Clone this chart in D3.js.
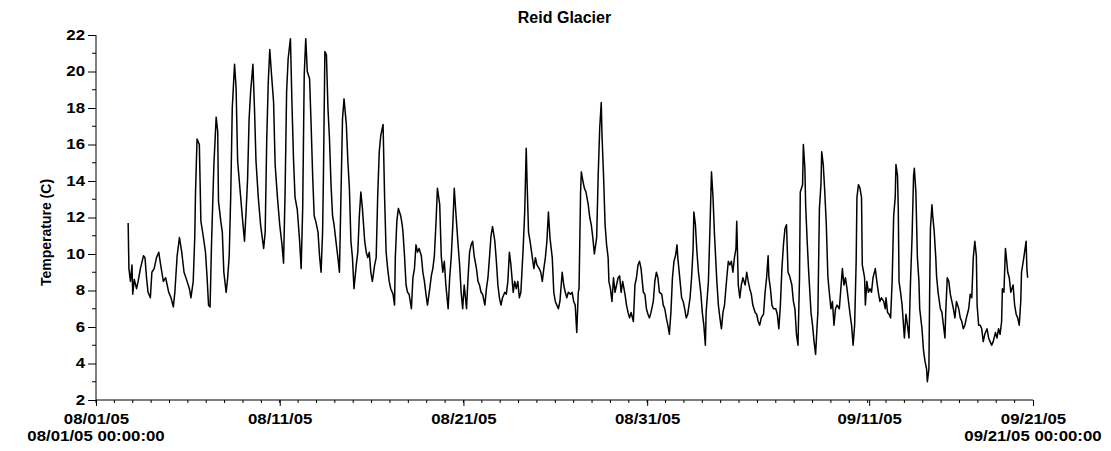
<!DOCTYPE html>
<html lang="en">
<head>
    <meta charset="utf-8">
    <title>Reid Glacier</title>
    <script src="https://d3js.org/d3.v7.min.js"></script>
    <style>
        body { margin: 0; background: #fff; }
        text { font-family: "Liberation Sans", Arial, sans-serif; font-weight: bold; fill: #000; }
    </style>
</head>
<body>
    <div id="chart-container"></div>

    <script>
        // hours since 08/01/05 00:00 and temperature (C)
        const hours = [
            42, 43, 45, 47, 48, 50, 53, 55, 58, 62, 64, 66, 68, 71, 73, 76, 79, 82, 83, 86, 88, 91, 95, 98, 101, 103, 106, 109, 112, 115, 119, 122, 124, 127, 129, 130, 132, 135, 137, 140, 143, 145, 147, 149, 151, 154, 157, 159,
            160, 163, 165, 167, 170, 172, 174, 176, 178, 181, 183, 185, 188, 191, 194, 196, 198, 200, 202, 205, 207, 209, 212, 215, 219, 221, 223, 225, 227, 229, 232, 234, 237, 240, 243, 245, 247, 249, 251, 254, 256, 258, 260, 263, 266, 268, 270, 272, 274, 276,
            279, 281, 283, 285, 287, 290, 292, 294, 296, 297, 299, 301, 303, 305, 307, 309, 311, 314, 316, 318, 320, 322, 324, 327, 329, 331, 333, 335, 337, 340, 342, 344, 346, 348, 351, 353, 355, 357, 359, 361, 364, 366, 368, 370, 372, 375, 377, 379, 381, 383, 385, 388, 390, 391, 393, 395, 398, 400, 401,
            403, 405, 407, 409, 412, 414, 416, 418, 420, 422, 425, 427, 429, 431, 433, 436, 438, 440, 442, 444, 446, 449, 451, 453, 455, 457, 460, 462, 464, 466, 468, 470, 473, 475, 477, 479, 481, 484, 486, 488, 490, 492, 494, 497, 499, 501, 503, 505, 508, 510, 512, 514, 516, 518, 521, 523, 525, 527,
            529, 531, 534, 536, 538, 540, 542, 545, 547, 549, 551, 553, 555, 558, 560, 562, 563, 565, 567, 569, 572, 574, 576, 579, 581, 583, 585, 587, 589, 591, 593, 596, 598, 600, 602, 604, 606, 609, 611, 613, 615, 617, 620, 622, 624, 626, 628, 630, 631, 633, 634, 636, 638, 640, 643, 645, 647, 649,
            651, 654, 656, 658, 660, 661, 663, 665, 667, 669, 670, 672, 674, 676, 678, 680, 682, 684, 686, 688, 691, 693, 695, 697, 699, 702, 704, 706, 708, 710, 712, 715, 717, 719, 721, 723, 725, 728, 730, 732, 734, 736, 739, 741, 743, 745, 747, 749, 751, 753, 755, 757, 759, 760, 763, 765, 767, 769, 771, 773,
            776, 778, 780, 781, 783, 785, 787, 790, 792, 794, 796, 797, 800, 802, 804, 806, 808, 811, 813, 815, 817, 819, 821, 824, 826, 828, 830, 832, 834, 836, 837, 839, 841, 843, 845, 848, 850, 852, 854, 856, 858, 861, 863, 865, 867, 869, 872, 874, 876, 878, 879, 881, 883, 885, 888, 890, 892, 894, 896, 898,
            900, 902, 904, 906, 909, 911, 913, 915, 917, 919, 920, 923, 924, 926, 927, 929, 931, 934, 936, 938, 940, 942, 943, 945, 947, 948, 950, 952, 954, 956, 957, 960, 962, 964, 966, 968, 971, 973, 975, 977, 979, 981, 983, 985, 987, 989, 991, 993, 994, 996, 998, 1000, 1001, 1004, 1005, 1007, 1009, 1011, 1013, 1015, 1018, 1020, 1022,
            1024, 1026, 1029, 1031, 1032, 1034, 1036, 1038, 1040, 1042, 1044, 1045, 1047, 1048, 1049, 1051, 1053, 1056, 1058, 1060, 1062, 1064, 1066, 1068, 1069, 1071, 1073, 1075, 1076, 1079, 1081, 1083, 1085, 1086, 1088, 1089, 1090, 1092, 1093, 1095, 1097, 1098, 1100, 1103, 1105, 1107, 1109, 1110, 1112, 1114, 1116, 1118, 1120, 1122, 1124, 1127, 1129, 1131, 1133, 1135, 1137, 1140, 1142, 1144, 1146, 1148, 1150, 1151, 1153,
            1155, 1157, 1159, 1161, 1164, 1166, 1168, 1170, 1172, 1175, 1177, 1179, 1181, 1183, 1184, 1186, 1188, 1189, 1191, 1193, 1195, 1198, 1200, 1202, 1204, 1206, 1208, 1209, 1212, 1213, 1215, 1216, 1217
        ];
        const temps = [
            11.7, 9.2, 8.5, 9.4, 7.8, 8.6, 8.1, 8.5, 9.2, 9.9, 9.8, 8.7, 7.9, 7.6, 9.0, 9.2, 9.8, 10.1, 9.8, 9.0, 8.5, 8.7, 7.9, 7.6, 7.1, 7.9, 9.9, 10.9, 10.1, 9.0, 8.5, 8.1, 7.6, 8.5, 10.9, 13.4, 16.3, 16.0, 11.8, 11.0, 10.1, 8.8, 7.2, 7.1, 10.7, 14.9, 17.5, 16.7,
            12.9, 11.8, 11.2, 9.0, 7.9, 8.7, 9.9, 13.2, 18.0, 20.4, 19.1, 15.1, 13.6, 12.1, 10.7, 12.3, 14.1, 17.4, 18.9, 20.4, 18.0, 15.1, 13.1, 11.6, 10.3, 11.2, 16.2, 19.4, 21.2, 20.0, 18.3, 14.9, 13.1, 11.6, 10.5, 9.5, 13.4, 18.9, 20.7, 21.8, 18.2, 15.2, 13.1, 12.4, 10.7, 9.2, 12.5, 19.8, 21.8, 20.0,
            19.6, 17.1, 14.3, 12.1, 11.8, 11.2, 9.9, 9.0, 11.2, 14.0, 21.1, 20.9, 18.0, 16.3, 13.8, 12.1, 11.6, 10.5, 9.8, 9.0, 13.2, 17.4, 18.5, 17.1, 15.1, 13.6, 10.7, 9.8, 8.1, 9.4, 10.1, 12.1, 13.4, 12.5, 10.7, 10.1, 9.8, 10.1, 9.0, 8.5, 9.4, 9.8, 13.2, 15.6, 16.5, 17.1, 13.1, 10.1, 9.2, 8.5, 8.1, 7.8, 7.2, 9.8, 11.8, 12.5, 12.1, 11.6, 11.2,
            9.9, 8.3, 7.9, 7.8, 7.0, 8.7, 9.2, 10.5, 10.1, 10.3, 9.9, 9.0, 8.5, 7.8, 7.2, 8.1, 8.8, 9.2, 9.9, 11.6, 13.6, 12.7, 9.9, 9.0, 9.6, 8.3, 7.0, 8.7, 9.8, 11.5, 13.6, 12.3, 10.5, 9.4, 7.9, 7.0, 8.3, 7.0, 8.7, 10.1, 10.5, 10.7, 9.9, 9.2, 8.5, 8.3, 7.9, 7.8, 7.2, 8.1, 8.7, 9.8, 11.0, 11.5, 10.7, 9.6, 8.3, 7.6,
            7.2, 7.6, 7.9, 7.8, 8.5, 10.1, 9.4, 7.9, 8.5, 8.1, 8.5, 7.6, 7.9, 10.3, 12.3, 15.8, 14.1, 11.2, 10.7, 10.1, 9.2, 9.8, 9.4, 9.2, 9.0, 8.5, 9.2, 9.8, 10.7, 12.3, 10.9, 9.8, 7.9, 7.4, 7.2, 7.0, 7.4, 9.0, 8.3, 7.9, 7.6, 7.9, 7.8, 7.9, 7.4, 7.2, 5.7, 7.9, 8.1, 13.4, 14.5, 14.0, 13.6, 13.4, 12.7, 12.0, 11.6, 10.9,
            10.0, 10.9, 14.3, 16.9, 18.3, 16.5, 14.3, 11.6, 10.5, 9.8, 8.5, 8.1, 7.4, 8.7, 7.9, 8.3, 8.7, 8.8, 7.9, 8.5, 7.8, 7.2, 6.8, 6.5, 6.8, 6.3, 8.3, 8.7, 9.4, 9.6, 9.2, 7.9, 7.8, 7.0, 6.7, 6.5, 6.8, 7.4, 8.5, 9.0, 8.7, 7.9, 7.8, 7.2, 7.0, 6.5, 6.1, 5.6, 6.8, 8.7, 9.6, 9.9, 10.5, 9.8, 8.5, 7.6, 7.4, 7.0, 6.5, 6.7,
            7.6, 8.7, 10.3, 12.3, 11.6, 10.1, 9.0, 7.9, 6.8, 6.1, 5.0, 6.8, 8.5, 11.4, 14.5, 13.1, 11.0, 8.5, 7.2, 6.5, 5.9, 6.8, 7.2, 8.7, 9.6, 9.4, 9.6, 9.0, 9.8, 10.3, 11.8, 8.3, 7.6, 8.3, 8.7, 8.3, 9.0, 8.5, 8.1, 7.8, 7.2, 6.8, 6.7, 6.3, 6.1, 6.5, 6.7, 7.9, 8.7, 9.9, 8.7, 8.1, 7.2, 7.0, 7.0, 6.7, 5.9, 7.2, 9.2, 10.5,
            11.4, 11.6, 9.0, 8.8, 8.3, 7.4, 7.0, 5.6, 5.0, 8.7, 13.4, 13.8, 16.0, 14.7, 12.7, 10.7, 9.0, 6.8, 6.1, 5.2, 4.5, 6.1, 6.8, 12.5, 13.8, 15.6, 14.9, 13.4, 11.6, 8.8, 8.3, 7.0, 7.4, 6.1, 7.0, 7.2, 7.0, 8.1, 9.2, 8.3, 8.7, 8.1, 7.4, 6.7, 6.1, 5.0, 6.1, 9.6, 13.1, 13.8, 13.6, 13.1, 9.4, 8.7, 7.2, 8.5, 7.9, 8.1, 7.9, 8.7, 9.2, 8.5, 7.9,
            7.4, 7.6, 7.4, 7.0, 7.6, 6.8, 6.7, 6.5, 8.5, 12.1, 13.1, 14.9, 14.3, 12.5, 8.5, 7.9, 7.2, 5.4, 6.7, 6.1, 5.4, 8.5, 10.9, 14.3, 14.7, 13.4, 9.8, 8.5, 7.0, 5.9, 4.7, 4.1, 3.7, 3.0, 3.7, 7.9, 11.4, 12.7, 12.1, 11.2, 9.8, 8.8, 7.9, 7.0, 6.8, 6.1, 5.4, 6.8, 8.7, 8.5, 7.8, 7.4, 7.0, 6.5, 7.4, 7.0, 6.5, 6.3, 5.9, 6.1, 6.5, 7.0, 7.8, 7.6, 9.8, 10.7, 9.9, 7.2, 6.1,
            6.1, 5.9, 5.2, 5.6, 5.9, 5.4, 5.2, 5.0, 5.2, 5.7, 5.4, 5.9, 5.6, 6.3, 8.1, 7.9, 10.3, 9.9, 9.0, 8.7, 7.9, 8.3, 7.2, 6.7, 6.5, 6.1, 7.4, 9.0, 9.8, 10.1, 10.7, 9.2, 8.7
        ];

        const yTicks = d3.range(2, 23, 2);
        // where the labelled ticks sit on the original axis, and what they say
        const xLabelPos = ['2005-08-01 00', '2005-08-11 00', '2005-08-21 00', '2005-08-31 00', '2005-09-12 02', '2005-09-21 00'];
        const xLabelText = ['08/01/05', '08/11/05', '08/21/05', '08/31/05', '09/11/05', '09/21/05'];
        const startLabel = '08/01/05 00:00:00';
        const endLabel = '09/21/05 00:00:00';

        const width = 1111;
        const height = 451;
        const paddingLeft = 96;
        const paddingRight = 78;
        const paddingTop = 35;
        const paddingBottom = 51;
        const graphWidth = width - paddingLeft - paddingRight;
        const graphHeight = height - paddingTop - paddingBottom;

        const start = new Date(2005, 7, 1);
        const end = new Date(2005, 8, 21);
        const parse = d3.timeParse('%Y-%m-%d %H');
        const data = hours.map((h, i) => ({ t: d3.timeHour.offset(start, h), v: temps[i] }));

        const svg = d3.select('#chart-container')
            .append('svg')
            .attr('width', width)
            .attr('height', height);

        const xScale = d3.scaleTime().domain([start, end]).range([0, graphWidth]);
        const yScale = d3.scaleLinear().domain([2, 22]).range([graphHeight, 0]);

        const g = svg.append('g')
            .attr('transform', `translate(${paddingLeft},${paddingTop})`);

        // widen text a little, the original lettering is broad
        function stretch(sel, k) {
            sel.each(function () {
                const len = this.getComputedTextLength();
                d3.select(this).attr('textLength', len * k).attr('lengthAdjust', 'spacingAndGlyphs');
            });
        }

        // y axis: labelled ticks every 2, small ticks every 1
        const yAxis = g.append('g').attr('id', 'y-axis');
        yAxis.call(d3.axisLeft(yScale).tickValues(yTicks).tickSize(8).tickPadding(3).tickFormat(d3.format('d')));
        yAxis.append('g').selectAll('line')
            .data(d3.range(3, 22, 2))
            .enter().append('line')
            .attr('x1', -4).attr('x2', 0)
            .attr('y1', d => yScale(d)).attr('y2', d => yScale(d))
            .attr('stroke', '#000');
        yAxis.select('.domain').attr('d', `M0,0V${graphHeight}`);
        yAxis.selectAll('text').style('font-size', '14px').style('font-family', null);
        stretch(yAxis.selectAll('text'), 1.2);

        // x axis: daily small ticks, labelled ticks
        const labelDates = xLabelPos.map(parse);
        const xAxis = g.append('g').attr('id', 'x-axis')
            .attr('transform', `translate(0,${graphHeight})`);
        xAxis.call(d3.axisBottom(xScale)
            .tickValues(labelDates)
            .tickSize(6).tickPadding(8)
            .tickFormat((d, i) => xLabelText[i]));
        xAxis.append('g').selectAll('line')
            .data(d3.timeDay.range(start, end))
            .enter().append('line')
            .attr('x1', d => xScale(d)).attr('x2', d => xScale(d))
            .attr('y1', 0).attr('y2', 3)
            .attr('stroke', '#000');
        xAxis.select('.domain').attr('d', `M0,0H${graphWidth}`);
        xAxis.selectAll('text').style('font-size', '14px').style('font-family', null);
        stretch(xAxis.selectAll('text'), 1.2);

        const ends = xAxis.selectAll('text.end-label')
            .data([[start, startLabel], [end, endLabel]])
            .enter().append('text')
            .attr('class', 'end-label')
            .attr('x', d => xScale(d[0]))
            .attr('y', 41)
            .attr('text-anchor', 'middle')
            .style('font-size', '14px')
            .text(d => d[1]);
        stretch(ends, 1.2);

        // temperature line
        g.append('path')
            .datum(data)
            .attr('fill', 'none')
            .attr('stroke', '#000')
            .attr('stroke-width', 1.5)
            .attr('stroke-linejoin', 'round')
            .attr('d', d3.line().x(d => xScale(d.t)).y(d => yScale(d.v)));

        // title and axis label
        svg.append('text')
            .attr('x', paddingLeft + graphWidth / 2)
            .attr('y', 23)
            .attr('text-anchor', 'middle')
            .style('font-size', '16px')
            .text('Reid Glacier');

        svg.append('text')
            .attr('transform', `translate(51,${paddingTop + graphHeight / 2 + 15}) rotate(-90)`)
            .attr('text-anchor', 'middle')
            .style('font-size', '14px')
            .text('Temperature (C)');
    </script>
</body>
</html>
